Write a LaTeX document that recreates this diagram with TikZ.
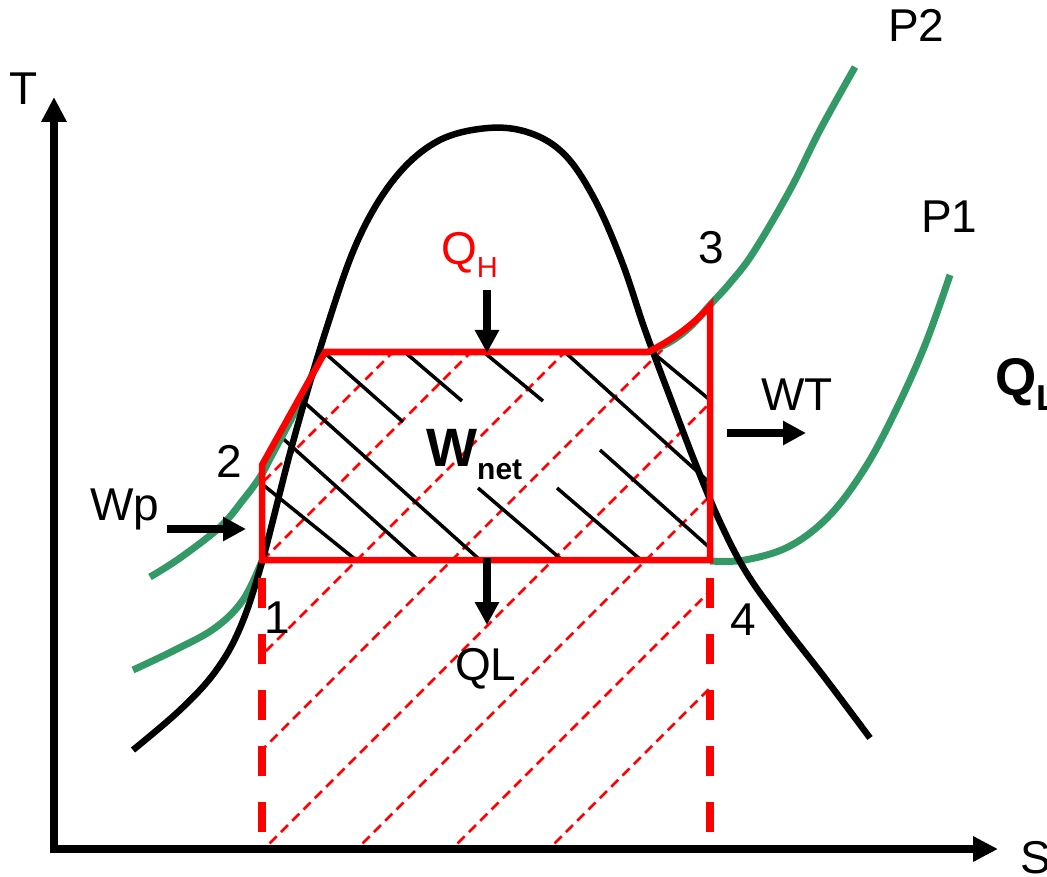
\documentclass[tikz,border=0pt]{standalone}
\usepackage{fontspec}
\setmainfont{Liberation Sans}
\usetikzlibrary{arrows.meta}
\definecolor{pgreen}{RGB}{51,153,102}
\begin{document}
\begin{tikzpicture}[x=1pt,y=-1pt,
  lbl/.style={inner sep=0pt, anchor=base west, font=\fontsize{46}{50}\selectfont},
  dome/.style={line width=6.5pt, black},
  isobar/.style={line width=7pt, pgreen},
  cyc/.style={line width=6.5pt, red, line join=miter},
  rdash/.style={line width=8pt, red, dash pattern=on 30pt off 26pt},
  rhatch/.style={line width=2.5pt, red, dash pattern=on 10pt off 6pt},
  bhatch/.style={line width=3.5pt, black},
  axisarrow/.style={line width=8pt, -{Triangle[length=25pt,width=24pt]}},
  flow/.style={line width=7.5pt, -{Triangle[length=23pt,width=23pt]}}
]
\useasboundingbox (0,0) rectangle (1047,877);

% red dashed hatching (area under the cycle)
\begin{scope}
\clip (262,846) -- (262,465) -- (325,352) -- (648,352) .. controls (672,340) and (692,326) .. (710,306) -- (710,846) -- cycle;
\foreach \c in {745,823,917,1012,1113,1206,1301,1398}
  \draw[rhatch] ({\c-900},900) -- ({\c-250},250);
\end{scope}

% black hatching (net work)
\draw[bhatch] (262,484) -- (356,560);
\draw[bhatch] (279,435) -- (418,560);
\draw[bhatch] (305,403) -- (480,560);
\draw[bhatch] (326,354) -- (403,422);
\draw[bhatch] (478,488) -- (562,560);
\draw[bhatch] (407,354) -- (462,401);
\draw[bhatch] (557,488) -- (641,560);
\draw[bhatch] (486,354) -- (543,401);
\draw[bhatch] (600,450) -- (710,548);
\draw[bhatch] (567,354) -- (710,483);
\draw[bhatch] (652,352) -- (710,400);

% isobars
\draw[isobar] plot[smooth, tension=0.6] coordinates {(133,670) (175,650) (215,628) (243,600) (262,561)};
\draw[isobar] plot[smooth, tension=0.6] coordinates {(710,561) (745,560) (790,546) (830,515) (865,468) (895,412) (925,345) (950,275)};
\draw[isobar] plot[smooth, tension=0.6] coordinates {(150,577) (180,558) (220,527) (243,500) (260,477) (272,455) (300,402) (318,362) (326,352)};
\draw[isobar] plot[smooth, tension=0.6] coordinates {(648,352) (670,342) (690,327) (710,305) (730,283) (753,253) (790,190) (820,130) (855,67)};

% saturation dome
\draw[dome] plot[smooth, tension=0.6] coordinates {(133,750) (180,710) (215,672) (240,628) (262,562) (293,442) (326,330) (358,240) (395,178) (438,141) (488,128) (530,133) (565,155) (595,200) (622,262) (645,330) (670,397) (696,465) (720,522) (746,572) (780,620) (825,678) (870,738)};

% cycle
\draw[cyc] (262,560) -- (262,465) -- (325,352) -- (648,352) .. controls (672,340) and (692,326) .. (710,306) -- (710,560) -- cycle;
\draw[rdash] (262,578) -- (262,840);
\draw[rdash] (710,578) -- (710,840);

% axes
\coordinate (ax0) at (54,853);
\coordinate (axT) at (54,97);
\coordinate (axO) at (50,849);
\coordinate (axS) at (998,849);
\draw[axisarrow] (ax0) -- (axT);
\draw[axisarrow] (axO) -- (axS);

% energy arrows
\coordinate (qh0) at (487,290); \coordinate (qh1) at (487,353);
\coordinate (ql0) at (487,558); \coordinate (ql1) at (487,625);
\coordinate (wt0) at (727,433); \coordinate (wt1) at (806,433);
\coordinate (wp0) at (167,529); \coordinate (wp1) at (246,529);
\draw[flow] (qh0) -- (qh1);
\draw[flow] (ql0) -- (ql1);
\draw[flow] (wt0) -- (wt1);
\draw[flow] (wp0) -- (wp1);

% labels
\node[lbl] (tT) at (9,105) {T};
\node[lbl] (tS) at (1020,873) {S};
\node[lbl] (tP2) at (888,42) {P2};
\node[lbl] (tP1) at (921,233) {P1};
\node[lbl] (t3) at (698,264) {3};
\node[lbl] (t2) at (216,477) {2};
\node[lbl] (t1) at (264,633) {1};
\node[lbl] (t4) at (730,635) {4};
\node[lbl] (tWp) at (90,520) {Wp};
\node[lbl] (tWT) at (761,410) {WT};
\node[lbl] (tQL) at (455,680) {QL};
\node[lbl, text=red] (tQH) at (441,265) {Q\raisebox{-13pt}{\fontsize{29}{30}\selectfont H}};
\node[lbl, font=\fontsize{54}{58}\selectfont\bfseries] (tW) at (426,466) {W\raisebox{-13pt}{\fontsize{30}{32}\selectfont\bfseries net}};
\node[lbl, font=\fontsize{53}{58}\selectfont\bfseries] (tQr) at (995,395) {Q\raisebox{-15pt}{\fontsize{36}{38}\selectfont\bfseries L}};
\end{tikzpicture}
\end{document}
